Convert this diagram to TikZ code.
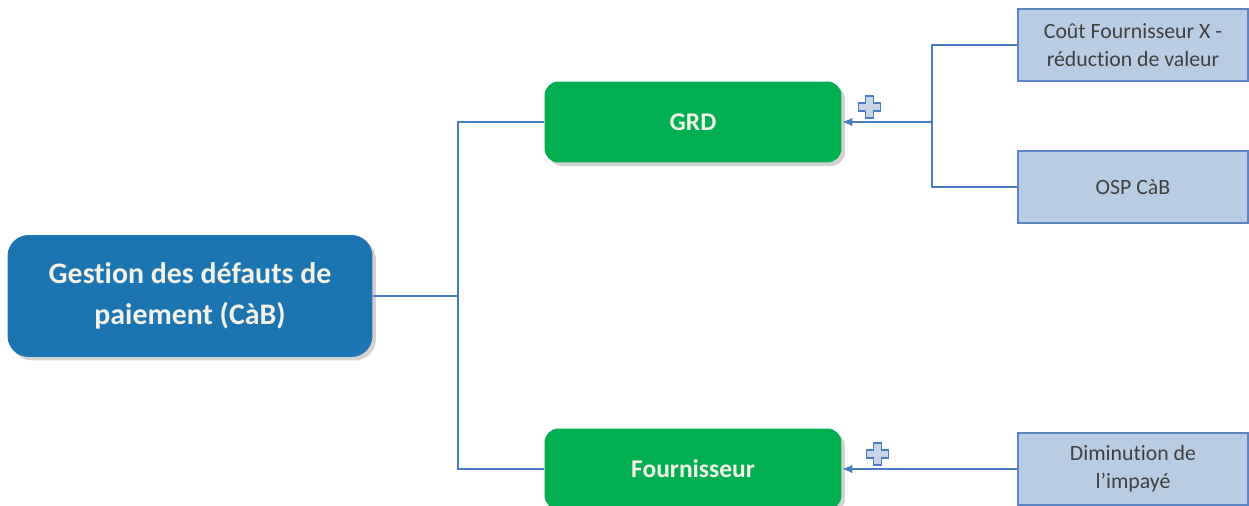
\documentclass[tikz,border=0pt]{standalone}
\usepackage{fontspec}
\setmainfont{Carlito}[Ligatures=NoCommon]
\usetikzlibrary{shadows,arrows.meta}
\definecolor{rootblue}{HTML}{1C75B0}
\definecolor{grdgreen}{HTML}{00B050}
\definecolor{leafblue}{HTML}{B8CCE4}
\definecolor{leafedge}{HTML}{5B86C2}
\definecolor{linkblue}{HTML}{4A7EC2}
\definecolor{plusfill}{HTML}{C9D5E6}
\definecolor{textwhite}{HTML}{F4F2E8}
\tikzset{
  rootbox/.style={draw=none,fill=rootblue,rounded corners=12pt,minimum width=7.3cm,minimum height=2.44cm,
    align=center,text=textwhite,font=\fontsize{17}{23.5}\selectfont\bfseries,
    drop shadow={shadow xshift=2pt,shadow yshift=-2pt,opacity=0.35}},
  midbox/.style={draw=none,fill=grdgreen,rounded corners=8pt,minimum width=5.94cm,minimum height=1.62cm,
    text=textwhite,font=\fontsize{14.5}{17}\selectfont\bfseries,
    drop shadow={shadow xshift=2pt,shadow yshift=-2pt,opacity=0.35}},
  leafbox/.style={draw=leafedge,line width=1.2pt,fill=leafblue,minimum width=4.6cm,minimum height=1.44cm,
    align=center,text=black!75,font=\fontsize{12.4}{16}\selectfont},
  conn/.style={draw=linkblue,line width=1.2pt},
  plusmark/.pic={
    \filldraw[fill=plusfill,draw=linkblue,line width=0.7pt]
      (-4,-11) -- (4,-11) -- (4,-4) -- (11,-4) -- (11,4) -- (4,4) -- (4,11)
      -- (-4,11) -- (-4,4) -- (-11,4) -- (-11,-4) -- (-4,-4) -- cycle;
  }
}
\begin{document}
\begin{tikzpicture}[x=0.02cm,y=-0.02cm]
  \useasboundingbox (0,0) rectangle (1249,506);
  \clip (0,0) rectangle (1249,506);

  % main topic
  \node[rootbox] (root) at (190,296) {Gestion des défauts de\\paiement (CàB)};
  % branches
  \node[midbox] (grd) at (693,122) {GRD};
  \node[midbox] (four) at (693,469) {Fournisseur};
  % leaves
  \node[leafbox] (cout) at (1133,45) {Coût Fournisseur X -\\réduction de valeur};
  \node[leafbox] (osp) at (1133,187) {OSP CàB};
  \node[leafbox] (dimin) at (1133,469) {Diminution de\\l’impayé};

  \coordinate (jL) at (458,296);
  \coordinate (jR) at (932,122);

  \draw[conn] (root.east) -- (jL);
  \draw[conn] (jL) |- (grd.west);
  \draw[conn] (jL) |- (four.west);
  \draw[conn] (jR) |- (cout.west);
  \draw[conn] (jR) |- (osp.west);
  \draw[conn,-{Latex[length=6pt,width=5pt]}] (jR) -- (grd.east);
  \draw[conn,-{Latex[length=6pt,width=5pt]}] (dimin.west) -- (four.east);

  \pic at ([shift={(28,-15)}]grd.east) {plusmark};
  \pic at ([shift={(36,-15)}]four.east) {plusmark};
\end{tikzpicture}
\end{document}
